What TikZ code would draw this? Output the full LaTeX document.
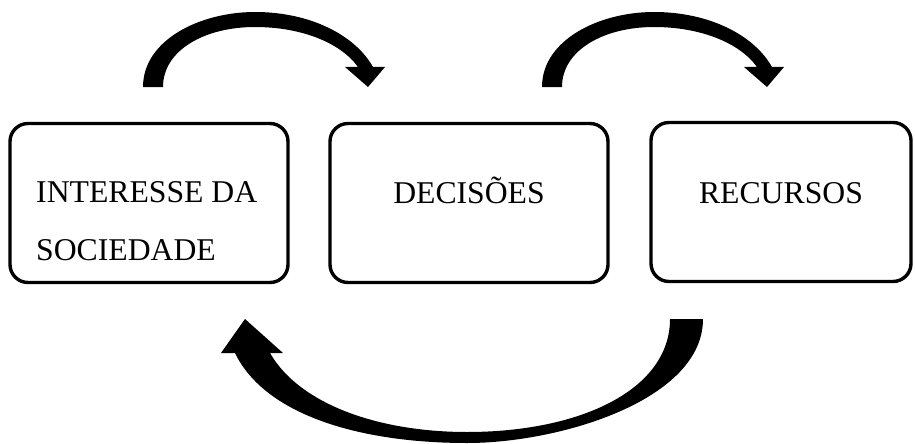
\documentclass[tikz,border=0pt]{standalone}
\usepackage{fontspec}
\setmainfont{Liberation Serif}
\tikzset{
  box/.style={draw, line width=3.4pt, rounded corners=18pt, minimum width=#1, minimum height=159pt, inner sep=0pt},
  lbl/.style={font=\fontsize{31.7}{58}\selectfont, inner sep=0pt},
  bendarrow/.pic={
    \fill (143,87) .. controls (143,40) and (200,12) .. (255,12)
      .. controls (310,12) and (355,35) .. (373,67)
      -- (385,67) -- (368,87) -- (345,67) -- (358,67)
      .. controls (340,42) and (300,27) .. (255,27)
      .. controls (205,27) and (163,50) .. (163,87) -- cycle;
  }
}
\begin{document}
\begin{tikzpicture}[x=1pt, y=-1pt]
  \useasboundingbox (0,0) rectangle (915,444);
  % boxes
  \node[box=278pt] (int) at (149,203) {};
  \node[box=278pt] (dec) at (469,203) {};
  \node[box=260pt] (rec) at (781,202) {};
  \node[lbl, align=left, anchor=base west] (intT) at (36,260) {INTERESSE DA\\SOCIEDADE};
  \node[lbl, anchor=base] (decT) at (dec.center |- 0,203) {DECISÕES};
  \node[lbl, anchor=base] (recT) at (rec.center |- 0,203) {RECURSOS};
  % curved arrows
  \pic at (0,0) {bendarrow};
  \pic at (399,0) {bendarrow};
  \fill (670,319) -- (703,319) .. controls (703,400) and (560,443) .. (467,443)
    .. controls (360,443) and (265,415) .. (235,353)
    -- (221,353) -- (245,319) -- (283,353) -- (270,353)
    .. controls (300,405) and (380,432) .. (467,432)
    .. controls (580,432) and (670,390) .. (670,319) -- cycle;
\end{tikzpicture}
\end{document}
